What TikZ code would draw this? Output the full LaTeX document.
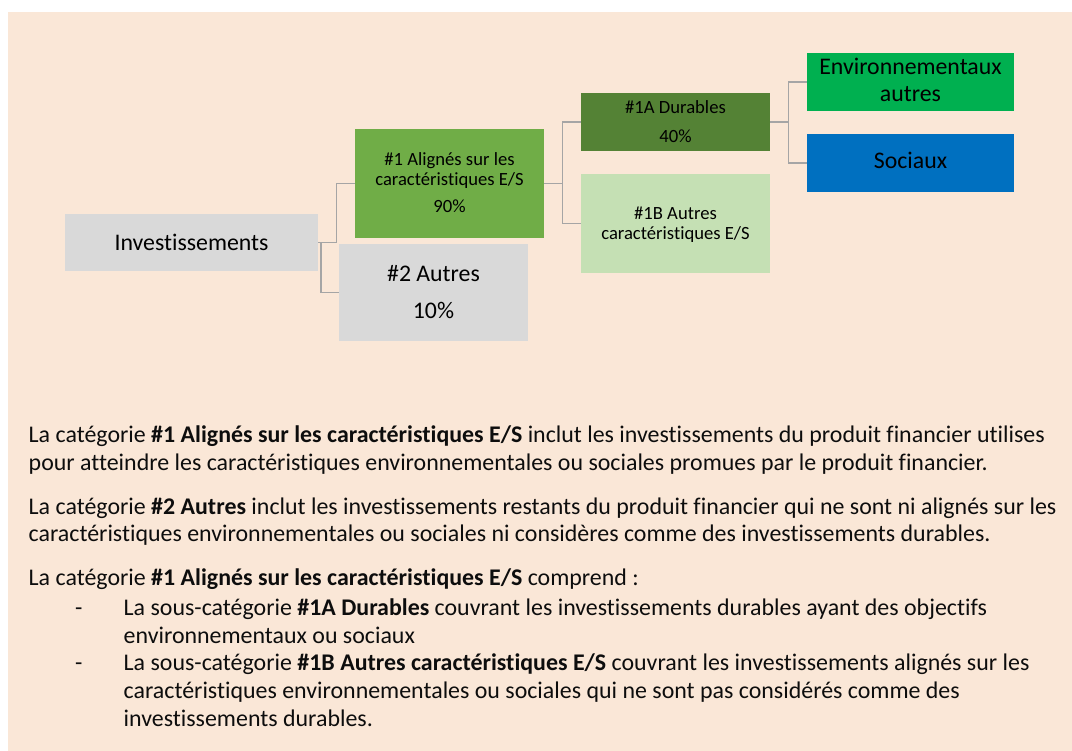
\documentclass[tikz,border=0pt]{standalone}
\usepackage{fontspec}
\setmainfont{Carlito}[Ligatures={NoCommon}]
\definecolor{peach}{HTML}{FAE7D7}
\definecolor{greybox}{HTML}{D9D9D9}
\definecolor{greenA}{HTML}{70AD47}
\definecolor{greenDark}{HTML}{548235}
\definecolor{greenLight}{HTML}{C5E0B4}
\definecolor{greenBright}{HTML}{00B050}
\definecolor{blueBox}{HTML}{0070C0}
\definecolor{conn}{HTML}{A5A5A5}
\definecolor{ink}{HTML}{0D0D0D}
\tikzset{
  boxshape/.style={rectangle, draw=none, inner sep=0pt, outer sep=0pt},
  bigtxt/.style={anchor=base, inner sep=0pt, font=\fontsize{23.9}{28}\selectfont, text=black},
  smalltxt/.style={anchor=base, inner sep=0pt, font=\fontsize{18.7}{22}\selectfont, text=black},
  bodytxt/.style={anchor=base west, inner sep=0pt, font=\fontsize{24}{28}\selectfont, text=ink},
  connector/.style={draw=conn, line width=1.8bp}
}
\begin{document}
\begin{tikzpicture}[x=1bp,y=-1bp]
\useasboundingbox (0,0) rectangle (1072,751);
\fill[peach] (8,12) rectangle (1072,751);

% boxes
\node[boxshape, fill=greybox, minimum width=253bp, minimum height=57bp] (inv) at (191.5,242.5) {};
\node[boxshape, fill=greenA, minimum width=189bp, minimum height=109bp] (n1) at (449.5,183.5) {};
\node[boxshape, fill=greybox, minimum width=189bp, minimum height=97bp] (n2) at (433.5,292.5) {};
\node[boxshape, fill=greenDark, minimum width=189bp, minimum height=58bp] (n1a) at (675.5,122) {};
\node[boxshape, fill=greenLight, minimum width=189bp, minimum height=99bp] (n1b) at (675.5,223.5) {};
\node[boxshape, fill=greenBright, minimum width=207bp, minimum height=58bp] (env) at (910.5,82) {};
\node[boxshape, fill=blueBox, minimum width=207bp, minimum height=58bp] (soc) at (910.5,163) {};

% box texts
\node[bigtxt] (invt) at (191.5,250.7) {Investissements};
\node[smalltxt] (n1t1) at (449.5,165) {\#1 Alignés sur les};
\node[smalltxt] (n1t2) at (449.5,185) {caractéristiques E/S};
\node[smalltxt] (n1t3) at (449.5,212.7) {90\%};
\node[bigtxt] (n2t1) at (433.5,281) {\#2 Autres};
\node[bigtxt] (n2t2) at (433.5,318) {10\%};
\node[smalltxt] (n1at1) at (675.5,113.3) {\#1A Durables};
\node[smalltxt] (n1at2) at (675.5,142) {40\%};
\node[smalltxt] (n1bt1) at (675.5,219) {\#1B Autres};
\node[smalltxt] (n1bt2) at (675.5,239) {caractéristiques E/S};
\node[bigtxt] (envt1) at (910.5,75) {Environnementaux};
\node[bigtxt] (envt2) at (910.5,101.7) {autres};
\node[bigtxt] (soct) at (910.5,168.3) {Sociaux};

% connectors
\coordinate (j1) at (336.5,242.5);
\coordinate (j2) at (321,242.5);
\coordinate (j3) at (562.5,183.5);
\coordinate (j4) at (788.5,122);
\draw[connector] (inv.east) -- (j1) |- (n1.west);
\draw[connector] (j2) |- (n2.west);
\draw[connector] (n1.east) -- (j3) |- (n1a.west);
\draw[connector] (j3) |- (n1b.west);
\draw[connector] (n1a.east) -- (j4) |- (env.west);
\draw[connector] (j4) |- (soc.west);

% body text
\node[bodytxt] (p1a) at (28.5,442.7) {La catégorie \textbf{\#1 Alignés sur les caractéristiques E/S} inclut les investissements du produit financier utilises};
\node[bodytxt] (p1b) at (28.5,470.7) {pour atteindre les caractéristiques environnementales ou sociales promues par le produit financier.};
\node[bodytxt] (p2a) at (28.5,514) {La catégorie \textbf{\#2 Autres} inclut les investissements restants du produit financier qui ne sont ni alignés sur les};
\node[bodytxt] (p2b) at (28.5,541.7) {caractéristiques environnementales ou sociales ni considères comme des investissements durables.};
\node[bodytxt] (p3) at (28.5,585.7) {La catégorie \textbf{\#1 Alignés sur les caractéristiques E/S} comprend :};
\node[bodytxt] (d1) at (75,615.7) {-};
\node[bodytxt] (b1a) at (123.5,615.7) {La sous-catégorie \textbf{\#1A Durables} couvrant les investissements durables ayant des objectifs};
\node[bodytxt] (b1b) at (123.5,643.3) {environnementaux ou sociaux};
\node[bodytxt] (d2) at (75,670) {-};
\node[bodytxt] (b2a) at (123.5,670) {La sous-catégorie \textbf{\#1B Autres caractéristiques E/S} couvrant les investissements alignés sur les};
\node[bodytxt] (b2b) at (123.5,698.3) {caractéristiques environnementales ou sociales qui ne sont pas considérés comme des};
\node[bodytxt] (b2c) at (123.5,726.7) {investissements durables.};
\end{tikzpicture}
\end{document}
